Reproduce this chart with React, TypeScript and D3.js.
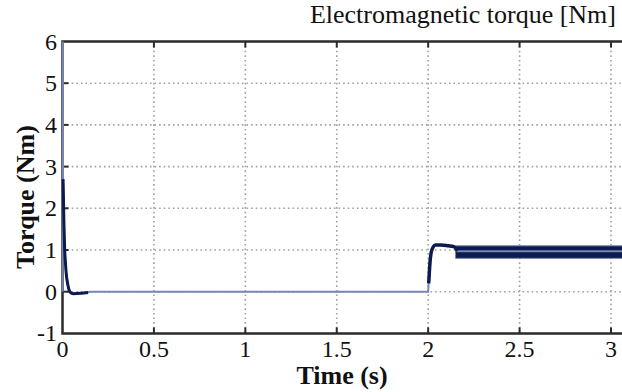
import React from "react";
import * as d3 from "d3";

const xTicks = [0, 0.5, 1, 1.5, 2, 2.5, 3];
const xTickLabels = ["0", "0.5", "1", "1.5", "2", "2.5", "3"];
const yTicks = [-1, 0, 1, 2, 3, 4, 5, 6];
const yTickLabels = ["-1", "0", "1", "2", "3", "4", "5", "6"];

// thin main trace
const traceTime = [0, 0.0015, 0.003, 0.005, 0.008, 0.012, 0.016, 0.02, 0.03, 0.04, 0.06, 0.1, 0.15, 2.0, 2.004, 2.01, 2.02, 2.04, 2.07, 2.11, 2.14, 2.16, 3.1];
const traceTorque = [0, 6.3, 2.7, 2.3, 1.6, 1.0, 0.7, 0.45, 0.15, 0.0, -0.05, -0.04, 0, 0, 0.3, 0.75, 1.0, 1.12, 1.12, 1.1, 1.08, 0.97, 0.97];

// dark heavy startup transient
const startTime = [0.003, 0.005, 0.008, 0.012, 0.016, 0.02, 0.03, 0.04, 0.06, 0.1, 0.14];
const startTorque = [2.7, 2.3, 1.6, 1.0, 0.7, 0.45, 0.15, 0.0, -0.05, -0.04, -0.02];

// dark heavy load step transient
const stepTime = [2.003, 2.01, 2.02, 2.04, 2.07, 2.11, 2.14, 2.16];
const stepTorque = [0.2, 0.7, 1.0, 1.12, 1.12, 1.1, 1.08, 0.98];

// ripple band after load step
const bandTime = [2.15, 3.1];
const bandUpper = [1.1, 1.1];
const bandLower = [0.8, 0.8];

const W = 622;
const H = 392;
const L = 62.5;
const T = 41.5;
const B = 333.4;

const serif = "'Liberation Serif', 'Times New Roman', 'DejaVu Serif', serif";

export default function App() {
  const x = d3.scaleLinear().domain([0, 3]).range([L, 611]);
  const y = d3.scaleLinear().domain([-1, 6]).range([B, T]);

  const line = d3
    .line<[number, number]>()
    .x((d) => x(d[0]))
    .y((d) => y(d[1]));

  const smooth = d3
    .line<[number, number]>()
    .x((d) => x(d[0]))
    .y((d) => y(d[1]))
    .curve(d3.curveMonotoneX);

  const trace = line(traceTime.map((t, i) => [t, traceTorque[i]]) as [number, number][]) || "";
  const start = smooth(startTime.map((t, i) => [t, startTorque[i]]) as [number, number][]) || "";
  const step = smooth(stepTime.map((t, i) => [t, stepTorque[i]]) as [number, number][]) || "";
  const area =
    d3
      .area<number>()
      .x((t) => x(t))
      .y0((_, i) => y(bandLower[i]))
      .y1((_, i) => y(bandUpper[i]))(bandTime) || "";

  const axisColor = "#2b2b2b";
  const txt: React.CSSProperties = { fontFamily: serif };

  return (
    <svg
      width={W}
      height={H}
      style={{ position: "absolute", left: 0, top: 0, background: "#fff" }}
    >
      <defs>
        <clipPath id="plot">
          <rect x={L - 1} y={T} width={W - L + 1} height={B - T} />
        </clipPath>
      </defs>

      {/* grid */}
      {xTicks.slice(1).map((t) => (
        <line
          key={"gx" + t}
          x1={x(t)}
          x2={x(t)}
          y1={T}
          y2={B}
          stroke="#a0a0a0"
          strokeWidth={1.6}
          strokeDasharray="1.6,3"
        />
      ))}
      {yTicks.slice(1, -1).map((v) => (
        <line
          key={"gy" + v}
          x1={L}
          x2={W}
          y1={y(v)}
          y2={y(v)}
          stroke="#a0a0a0"
          strokeWidth={1.6}
          strokeDasharray="1.6,3"
        />
      ))}

      {/* ticks */}
      {xTicks.slice(1).map((t) => (
        <g key={"tx" + t}>
          <line x1={x(t)} x2={x(t)} y1={B} y2={B - 6} stroke={axisColor} strokeWidth={2} />
          <line x1={x(t)} x2={x(t)} y1={T} y2={T + 6} stroke={axisColor} strokeWidth={2} />
        </g>
      ))}
      {yTicks.slice(1, -1).map((v) => (
        <line key={"ty" + v} x1={L} x2={L + 6} y1={y(v)} y2={y(v)} stroke={axisColor} strokeWidth={2} />
      ))}

      {/* frame */}
      <path d={`M${W},${T}H${L}V${B}H${W}`} fill="none" stroke={axisColor} strokeWidth={2.5} />

      {/* data */}
      <g clipPath="url(#plot)">
        <path d={area} fill="#0b1a4f" stroke="#6f82b3" strokeWidth={1} />
        <path d={trace} fill="none" stroke="#7787b5" strokeWidth={2} />
        <path d={start} fill="none" stroke="#0b1a4f" strokeWidth={3} />
        <path d={step} fill="none" stroke="#0b1a4f" strokeWidth={3.5} />
      </g>

      {/* tick labels */}
      {xTicks.map((t, i) => (
        <text key={"lx" + t} x={x(t)} y={357} textAnchor="middle" fontSize={24} fill="#111" style={txt}>
          {xTickLabels[i]}
        </text>
      ))}
      {yTicks.map((v, i) => (
        <text key={"ly" + v} x={57} y={y(v) + 8} textAnchor="end" fontSize={24} fill="#111" style={txt}>
          {yTickLabels[i]}
        </text>
      ))}

      {/* titles */}
      <text x={616} y={23} textAnchor="end" fontSize={26} fill="#111" style={txt}>
        Electromagnetic torque [Nm]
      </text>
      <text x={342} y={384} textAnchor="middle" fontSize={26} fontWeight="bold" fill="#111" style={txt}>
        Time (s)
      </text>
      <text
        transform={`translate(34,197) rotate(-90)`}
        textAnchor="middle"
        fontSize={26}
        fontWeight="bold"
        fill="#111"
        style={txt}
      >
        Torque (Nm)
      </text>
    </svg>
  );
}
